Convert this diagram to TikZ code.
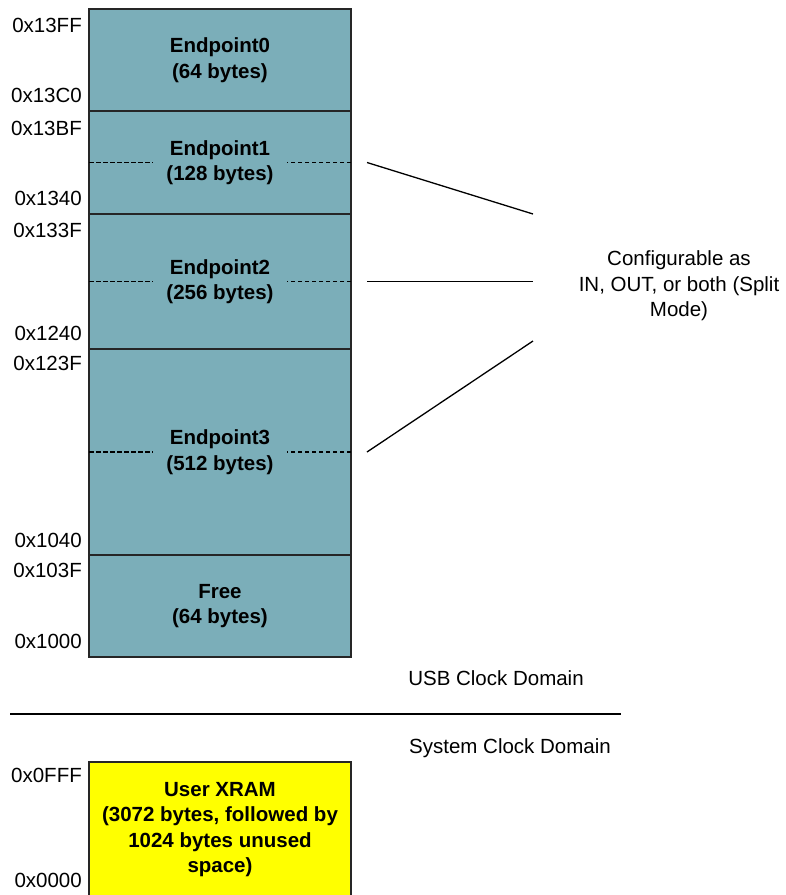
\documentclass[tikz,border=0pt]{standalone}
\usepackage{fontspec}
\setmainfont{Liberation Sans}
\usepackage{xcolor}
\usetikzlibrary{positioning, calc}
\definecolor{usbteal}{RGB}{123,174,185}
\definecolor{xramyellow}{RGB}{255,255,0}

\begin{document}
\begin{tikzpicture}[
      x=1pt, y=-1pt,
      font=\fontsize{20.5}{25.5}\selectfont,
      region/.style={draw=black!85, line width=1.4pt, minimum width=262pt, inner sep=0pt, outer sep=0pt, align=center, font=\fontsize{20.5}{25.5}\selectfont\bfseries},
      epbox/.style={region, fill=usbteal},
      addr/.style={anchor=east, inner sep=0pt},
      splitline/.style={line width=1.6pt, dash pattern=on 4.5pt off 2.5pt},
      lnk/.style={line width=1.3pt}
    ]
    \useasboundingbox (0,0) rectangle (786,895);

    % USB FIFO space
    \node[epbox, minimum height=102pt] (ep0) at (220,60) {Endpoint0\\(64 bytes)};
    \node[epbox, minimum height=103pt, below=0pt of ep0] (ep1) {Endpoint1\\(128 bytes)};
    \node[epbox, minimum height=135pt, below=0pt of ep1] (ep2) {Endpoint2\\(256 bytes)};
    \node[epbox, minimum height=206pt, below=0pt of ep2] (ep3) {Endpoint3\\(512 bytes)};
    \node[epbox, minimum height=102pt, below=0pt of ep3] (free) {Free\\(64 bytes)};

    \foreach \ep in {ep1, ep2, ep3} {
      \draw[splitline] (\ep.west) -- ++(64,0);
      \draw[splitline] (\ep.east) -- ++(-64,0);
    }

    \node[addr] (a13FF) at ($(ep0.north west)+(-7,16)$) {0x13FF};
    \node[addr] (a13C0) at ($(ep0.south west)+(-7,-16)$) {0x13C0};
    \node[addr] (a13BF) at ($(ep1.north west)+(-7,17)$) {0x13BF};
    \node[addr] (a1340) at ($(ep1.south west)+(-7,-16)$) {0x1340};
    \node[addr] (a133F) at ($(ep2.north west)+(-7,16)$) {0x133F};
    \node[addr] (a1240) at ($(ep2.south west)+(-7,-16)$) {0x1240};
    \node[addr] (a123F) at ($(ep3.north west)+(-7,14)$) {0x123F};
    \node[addr] (a1040) at ($(ep3.south west)+(-7,-15)$) {0x1040};
    \node[addr] (a103F) at ($(free.north west)+(-7,15)$) {0x103F};
    \node[addr] (a1000) at ($(free.south west)+(-7,-16)$) {0x1000};

    % split mode note
    \node[align=center] (cfg) at (679,286) {Configurable as\\IN, OUT, or both (Split\\Mode)};
    \coordinate (t1) at (533,214);
    \coordinate (t2) at (ep2.east -| t1);
    \coordinate (t3) at (533,341);
    \draw[lnk] ($(ep1.east)+(16,0)$) -- (t1);
    \draw[lnk] ($(ep2.east)+(16,0)$) -- (t2);
    \draw[lnk] ($(ep3.east)+(16,0)$) -- (t3);

    % clock domains
    \node (usbclk) at (496,678) {USB Clock Domain};
    \node (sysclk) at (510,748) {System Clock Domain};
    \coordinate (dl) at (10,714);
    \coordinate (dr) at (621,714);
    \draw[lnk] (dl) -- (dr);

    % user xram
    \node[region, fill=xramyellow, minimum height=135pt] (xram) at (220,829.5) {User XRAM\\(3072 bytes, followed by\\1024 bytes unused\\space)};
    \node[addr] (a0FFF) at ($(xram.north west)+(-7,13)$) {0x0FFF};
    \node[addr] (a0000) at ($(xram.south west)+(-7,-17)$) {0x0000};
  \end{tikzpicture}
\end{document}
